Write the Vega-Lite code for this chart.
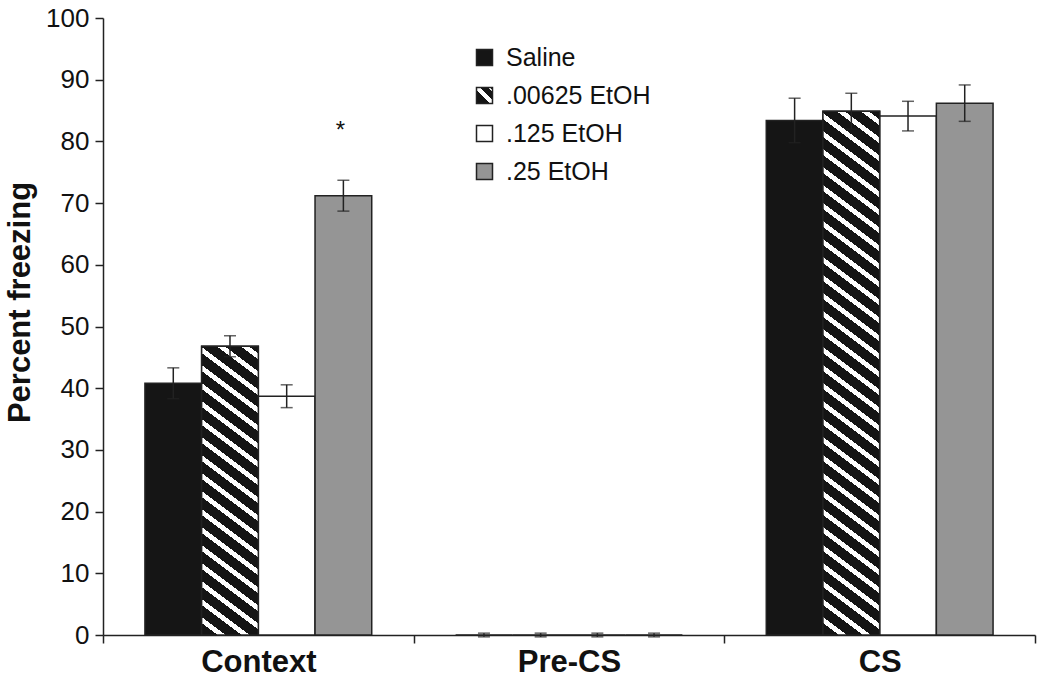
{
  "$schema": "https://vega.github.io/schema/vega-lite/v6.json",
  "width": 932,
  "height": 617,
  "autosize": {"type": "none"},
  "padding": {"left": 103, "top": 18, "right": 15, "bottom": 52},
  "background": "white",
  "config": {"view": {"stroke": null}, "font": "Liberation Sans"},
  "data": {
    "values": [
      {"cond": "Context", "group": "Saline", "value": 40.8, "err": 2.5},
      {"cond": "Context", "group": ".00625 EtOH", "value": 46.8, "err": 1.7},
      {"cond": "Context", "group": ".125 EtOH", "value": 38.7, "err": 1.85},
      {"cond": "Context", "group": ".25 EtOH", "value": 71.2, "err": 2.5},
      {"cond": "Pre-CS", "group": "Saline", "value": 0, "err": 0.3},
      {"cond": "Pre-CS", "group": ".00625 EtOH", "value": 0, "err": 0.3},
      {"cond": "Pre-CS", "group": ".125 EtOH", "value": 0, "err": 0.3},
      {"cond": "Pre-CS", "group": ".25 EtOH", "value": 0, "err": 0.3},
      {"cond": "CS", "group": "Saline", "value": 83.4, "err": 3.6},
      {"cond": "CS", "group": ".00625 EtOH", "value": 84.9, "err": 2.9},
      {"cond": "CS", "group": ".125 EtOH", "value": 84.1, "err": 2.4},
      {"cond": "CS", "group": ".25 EtOH", "value": 86.2, "err": 2.95}
    ]
  },
  "encoding": {
    "x": {
      "field": "cond", "type": "nominal", "sort": ["Context", "Pre-CS", "CS"],
      "scale": {"paddingInner": 0, "paddingOuter": 0},
      "axis": {
        "title": null, "labelAngle": 0, "tickBand": "extent",
        "labelFont": "Liberation Sans", "labelFontSize": 31, "labelFontWeight": "bold", "labelColor": "#111",
        "labelPadding": 4, "tickSize": 8, "tickColor": "#222", "tickWidth": 1.5,
        "domainColor": "#222", "domainWidth": 1.5
      }
    },
    "xOffset": {
      "field": "group", "type": "nominal", "sort": ["Saline", ".00625 EtOH", ".125 EtOH", ".25 EtOH"],
      "scale": {"paddingInner": 0, "paddingOuter": 0.7396}
    }
  },
  "layer": [
    {
      "mark": {"type": "bar", "stroke": "#222", "strokeWidth": 1.5},
      "encoding": {
        "y": {
          "field": "value", "type": "quantitative", "title": "Percent freezing",
          "scale": {"domain": [0, 100], "nice": false},
          "axis": {
            "values": [0, 10, 20, 30, 40, 50, 60, 70, 80, 90, 100], "grid": false,
            "labelFont": "Liberation Sans", "labelFontSize": 26, "labelColor": "#111", "labelPadding": 6,
            "tickSize": 8, "tickColor": "#222", "tickWidth": 1.5, "domainColor": "#222", "domainWidth": 1.5,
            "titleFont": "Liberation Sans", "titleFontSize": 31, "titleFontWeight": "bold", "titleColor": "#111",
            "titleX": -74, "titleY": 284, "titleAngle": -90, "titleBaseline": "alphabetic", "titleAlign": "center"
          }
        },
        "fill": {
          "field": "group", "type": "nominal",
          "scale": {
            "domain": ["Saline", ".00625 EtOH", ".125 EtOH", ".25 EtOH"],
            "range": [
              "#151515",
              {"expr": "{gradient: 'linear', x1: 0, y1: 1, x2: 1, y2: 0, stops: [{offset: 0, color: '#151515'}, {offset: 0.42, color: '#151515'}, {offset: 0.42, color: '#ffffff'}, {offset: 0.6, color: '#ffffff'}, {offset: 0.6, color: '#151515'}, {offset: 0.85, color: '#151515'}, {offset: 0.85, color: '#ffffff'}, {offset: 0.92, color: '#ffffff'}, {offset: 0.92, color: '#151515'}, {offset: 1, color: '#151515'}]}"},
              "#ffffff",
              "#959595"
            ]
          },
          "legend": {
            "orient": "none", "legendX": 369, "legendY": 27, "title": null,
            "labelFont": "Liberation Sans", "labelFontSize": 25, "labelColor": "#111",
            "symbolType": "square", "symbolSize": 256, "symbolStrokeColor": "#222", "symbolStrokeWidth": 1.5,
            "symbolOpacity": 1, "rowPadding": 12, "labelOffset": 9
          }
        }
      }
    },
    {
      "transform": [{"filter": "datum.cond === 'Context' && datum.group === '.00625 EtOH'"}],
      "mark": {"type": "bar", "stroke": "#222", "strokeWidth": 1.5,
        "fill": {"gradient": "linear", "x1": 0, "y1": 1, "x2": 0.28753, "y2": -0.95238, "stops": [
          {"offset": 0, "color": "#151515"}, {"offset": 0.0208, "color": "#151515"}, {"offset": 0.0208, "color": "#ffffff"}, {"offset": 0.03125, "color": "#ffffff"},
          {"offset": 0.03125, "color": "#151515"}, {"offset": 0.0521, "color": "#151515"}, {"offset": 0.0521, "color": "#ffffff"}, {"offset": 0.0625, "color": "#ffffff"},
          {"offset": 0.0625, "color": "#151515"}, {"offset": 0.0833, "color": "#151515"}, {"offset": 0.0833, "color": "#ffffff"}, {"offset": 0.09375, "color": "#ffffff"},
          {"offset": 0.09375, "color": "#151515"}, {"offset": 0.1146, "color": "#151515"}, {"offset": 0.1146, "color": "#ffffff"}, {"offset": 0.125, "color": "#ffffff"},
          {"offset": 0.125, "color": "#151515"}, {"offset": 0.1458, "color": "#151515"}, {"offset": 0.1458, "color": "#ffffff"}, {"offset": 0.15625, "color": "#ffffff"},
          {"offset": 0.15625, "color": "#151515"}, {"offset": 0.1771, "color": "#151515"}, {"offset": 0.1771, "color": "#ffffff"}, {"offset": 0.1875, "color": "#ffffff"},
          {"offset": 0.1875, "color": "#151515"}, {"offset": 0.2083, "color": "#151515"}, {"offset": 0.2083, "color": "#ffffff"}, {"offset": 0.21875, "color": "#ffffff"},
          {"offset": 0.21875, "color": "#151515"}, {"offset": 0.2396, "color": "#151515"}, {"offset": 0.2396, "color": "#ffffff"}, {"offset": 0.25, "color": "#ffffff"},
          {"offset": 0.25, "color": "#151515"}, {"offset": 0.2708, "color": "#151515"}, {"offset": 0.2708, "color": "#ffffff"}, {"offset": 0.28125, "color": "#ffffff"},
          {"offset": 0.28125, "color": "#151515"}, {"offset": 0.3021, "color": "#151515"}, {"offset": 0.3021, "color": "#ffffff"}, {"offset": 0.3125, "color": "#ffffff"},
          {"offset": 0.3125, "color": "#151515"}, {"offset": 0.3333, "color": "#151515"}, {"offset": 0.3333, "color": "#ffffff"}, {"offset": 0.34375, "color": "#ffffff"},
          {"offset": 0.34375, "color": "#151515"}, {"offset": 0.3646, "color": "#151515"}, {"offset": 0.3646, "color": "#ffffff"}, {"offset": 0.375, "color": "#ffffff"},
          {"offset": 0.375, "color": "#151515"}, {"offset": 0.3958, "color": "#151515"}, {"offset": 0.3958, "color": "#ffffff"}, {"offset": 0.40625, "color": "#ffffff"},
          {"offset": 0.40625, "color": "#151515"}, {"offset": 0.4271, "color": "#151515"}, {"offset": 0.4271, "color": "#ffffff"}, {"offset": 0.4375, "color": "#ffffff"},
          {"offset": 0.4375, "color": "#151515"}, {"offset": 0.4583, "color": "#151515"}, {"offset": 0.4583, "color": "#ffffff"}, {"offset": 0.46875, "color": "#ffffff"},
          {"offset": 0.46875, "color": "#151515"}, {"offset": 0.4896, "color": "#151515"}, {"offset": 0.4896, "color": "#ffffff"}, {"offset": 0.5, "color": "#ffffff"},
          {"offset": 0.5, "color": "#151515"}, {"offset": 0.5208, "color": "#151515"}, {"offset": 0.5208, "color": "#ffffff"}, {"offset": 0.53125, "color": "#ffffff"},
          {"offset": 0.53125, "color": "#151515"}, {"offset": 0.5521, "color": "#151515"}, {"offset": 0.5521, "color": "#ffffff"}, {"offset": 0.5625, "color": "#ffffff"},
          {"offset": 0.5625, "color": "#151515"}, {"offset": 0.5833, "color": "#151515"}, {"offset": 0.5833, "color": "#ffffff"}, {"offset": 0.59375, "color": "#ffffff"},
          {"offset": 0.59375, "color": "#151515"}, {"offset": 0.6146, "color": "#151515"}, {"offset": 0.6146, "color": "#ffffff"}, {"offset": 0.625, "color": "#ffffff"},
          {"offset": 0.625, "color": "#151515"}, {"offset": 1, "color": "#151515"}
        ]}
      },
      "encoding": {
        "y": {"field": "value", "type": "quantitative", "title": "Percent freezing"}
      }
    },
    {
      "transform": [{"filter": "datum.cond === 'CS' && datum.group === '.00625 EtOH'"}],
      "mark": {"type": "bar", "stroke": "#222", "strokeWidth": 1.5,
        "fill": {"gradient": "linear", "x1": 0, "y1": 1, "x2": 0.088682, "y2": -0.0924, "stops": [
          {"offset": 0, "color": "#151515"}, {"offset": 0.0208, "color": "#151515"}, {"offset": 0.0208, "color": "#ffffff"}, {"offset": 0.03125, "color": "#ffffff"},
          {"offset": 0.03125, "color": "#151515"}, {"offset": 0.0521, "color": "#151515"}, {"offset": 0.0521, "color": "#ffffff"}, {"offset": 0.0625, "color": "#ffffff"},
          {"offset": 0.0625, "color": "#151515"}, {"offset": 0.0833, "color": "#151515"}, {"offset": 0.0833, "color": "#ffffff"}, {"offset": 0.09375, "color": "#ffffff"},
          {"offset": 0.09375, "color": "#151515"}, {"offset": 0.1146, "color": "#151515"}, {"offset": 0.1146, "color": "#ffffff"}, {"offset": 0.125, "color": "#ffffff"},
          {"offset": 0.125, "color": "#151515"}, {"offset": 0.1458, "color": "#151515"}, {"offset": 0.1458, "color": "#ffffff"}, {"offset": 0.15625, "color": "#ffffff"},
          {"offset": 0.15625, "color": "#151515"}, {"offset": 0.1771, "color": "#151515"}, {"offset": 0.1771, "color": "#ffffff"}, {"offset": 0.1875, "color": "#ffffff"},
          {"offset": 0.1875, "color": "#151515"}, {"offset": 0.2083, "color": "#151515"}, {"offset": 0.2083, "color": "#ffffff"}, {"offset": 0.21875, "color": "#ffffff"},
          {"offset": 0.21875, "color": "#151515"}, {"offset": 0.2396, "color": "#151515"}, {"offset": 0.2396, "color": "#ffffff"}, {"offset": 0.25, "color": "#ffffff"},
          {"offset": 0.25, "color": "#151515"}, {"offset": 0.2708, "color": "#151515"}, {"offset": 0.2708, "color": "#ffffff"}, {"offset": 0.28125, "color": "#ffffff"},
          {"offset": 0.28125, "color": "#151515"}, {"offset": 0.3021, "color": "#151515"}, {"offset": 0.3021, "color": "#ffffff"}, {"offset": 0.3125, "color": "#ffffff"},
          {"offset": 0.3125, "color": "#151515"}, {"offset": 0.3333, "color": "#151515"}, {"offset": 0.3333, "color": "#ffffff"}, {"offset": 0.34375, "color": "#ffffff"},
          {"offset": 0.34375, "color": "#151515"}, {"offset": 0.3646, "color": "#151515"}, {"offset": 0.3646, "color": "#ffffff"}, {"offset": 0.375, "color": "#ffffff"},
          {"offset": 0.375, "color": "#151515"}, {"offset": 0.3958, "color": "#151515"}, {"offset": 0.3958, "color": "#ffffff"}, {"offset": 0.40625, "color": "#ffffff"},
          {"offset": 0.40625, "color": "#151515"}, {"offset": 0.4271, "color": "#151515"}, {"offset": 0.4271, "color": "#ffffff"}, {"offset": 0.4375, "color": "#ffffff"},
          {"offset": 0.4375, "color": "#151515"}, {"offset": 0.4583, "color": "#151515"}, {"offset": 0.4583, "color": "#ffffff"}, {"offset": 0.46875, "color": "#ffffff"},
          {"offset": 0.46875, "color": "#151515"}, {"offset": 0.4896, "color": "#151515"}, {"offset": 0.4896, "color": "#ffffff"}, {"offset": 0.5, "color": "#ffffff"},
          {"offset": 0.5, "color": "#151515"}, {"offset": 0.5208, "color": "#151515"}, {"offset": 0.5208, "color": "#ffffff"}, {"offset": 0.53125, "color": "#ffffff"},
          {"offset": 0.53125, "color": "#151515"}, {"offset": 0.5521, "color": "#151515"}, {"offset": 0.5521, "color": "#ffffff"}, {"offset": 0.5625, "color": "#ffffff"},
          {"offset": 0.5625, "color": "#151515"}, {"offset": 0.5833, "color": "#151515"}, {"offset": 0.5833, "color": "#ffffff"}, {"offset": 0.59375, "color": "#ffffff"},
          {"offset": 0.59375, "color": "#151515"}, {"offset": 0.6146, "color": "#151515"}, {"offset": 0.6146, "color": "#ffffff"}, {"offset": 0.625, "color": "#ffffff"},
          {"offset": 0.625, "color": "#151515"}, {"offset": 0.6458, "color": "#151515"}, {"offset": 0.6458, "color": "#ffffff"}, {"offset": 0.65625, "color": "#ffffff"},
          {"offset": 0.65625, "color": "#151515"}, {"offset": 0.6771, "color": "#151515"}, {"offset": 0.6771, "color": "#ffffff"}, {"offset": 0.6875, "color": "#ffffff"},
          {"offset": 0.6875, "color": "#151515"}, {"offset": 0.7083, "color": "#151515"}, {"offset": 0.7083, "color": "#ffffff"}, {"offset": 0.71875, "color": "#ffffff"},
          {"offset": 0.71875, "color": "#151515"}, {"offset": 0.7396, "color": "#151515"}, {"offset": 0.7396, "color": "#ffffff"}, {"offset": 0.75, "color": "#ffffff"},
          {"offset": 0.75, "color": "#151515"}, {"offset": 0.7708, "color": "#151515"}, {"offset": 0.7708, "color": "#ffffff"}, {"offset": 0.78125, "color": "#ffffff"},
          {"offset": 0.78125, "color": "#151515"}, {"offset": 0.8021, "color": "#151515"}, {"offset": 0.8021, "color": "#ffffff"}, {"offset": 0.8125, "color": "#ffffff"},
          {"offset": 0.8125, "color": "#151515"}, {"offset": 0.8333, "color": "#151515"}, {"offset": 0.8333, "color": "#ffffff"}, {"offset": 0.84375, "color": "#ffffff"},
          {"offset": 0.84375, "color": "#151515"}, {"offset": 0.8646, "color": "#151515"}, {"offset": 0.8646, "color": "#ffffff"}, {"offset": 0.875, "color": "#ffffff"},
          {"offset": 0.875, "color": "#151515"}, {"offset": 0.8958, "color": "#151515"}, {"offset": 0.8958, "color": "#ffffff"}, {"offset": 0.90625, "color": "#ffffff"},
          {"offset": 0.90625, "color": "#151515"}, {"offset": 0.9271, "color": "#151515"}, {"offset": 0.9271, "color": "#ffffff"}, {"offset": 0.9375, "color": "#ffffff"},
          {"offset": 0.9375, "color": "#151515"}, {"offset": 0.9583, "color": "#151515"}, {"offset": 0.9583, "color": "#ffffff"}, {"offset": 0.96875, "color": "#ffffff"},
          {"offset": 0.96875, "color": "#151515"}, {"offset": 0.9896, "color": "#151515"}, {"offset": 0.9896, "color": "#ffffff"}, {"offset": 1, "color": "#ffffff"}
        ]}
      },
      "encoding": {
        "y": {"field": "value", "type": "quantitative", "title": "Percent freezing"}
      }
    },
    {
      "mark": {"type": "errorbar", "ticks": {"size": 12, "thickness": 1.5}, "thickness": 1.5, "color": "#222"},
      "encoding": {
        "y": {"field": "value", "type": "quantitative", "title": "Percent freezing"},
        "yError": {"field": "err"}
      }
    },
    {
      "data": {"values": [{"cond": "Context", "group": ".25 EtOH", "label": "*", "y": 80.6}]},
      "mark": {"type": "text", "font": "Liberation Sans", "fontSize": 24, "color": "#111", "baseline": "alphabetic", "align": "center", "dx": -3},
      "encoding": {
        "y": {"field": "y", "type": "quantitative", "title": "Percent freezing"},
        "text": {"field": "label"}
      }
    }
  ]
}
